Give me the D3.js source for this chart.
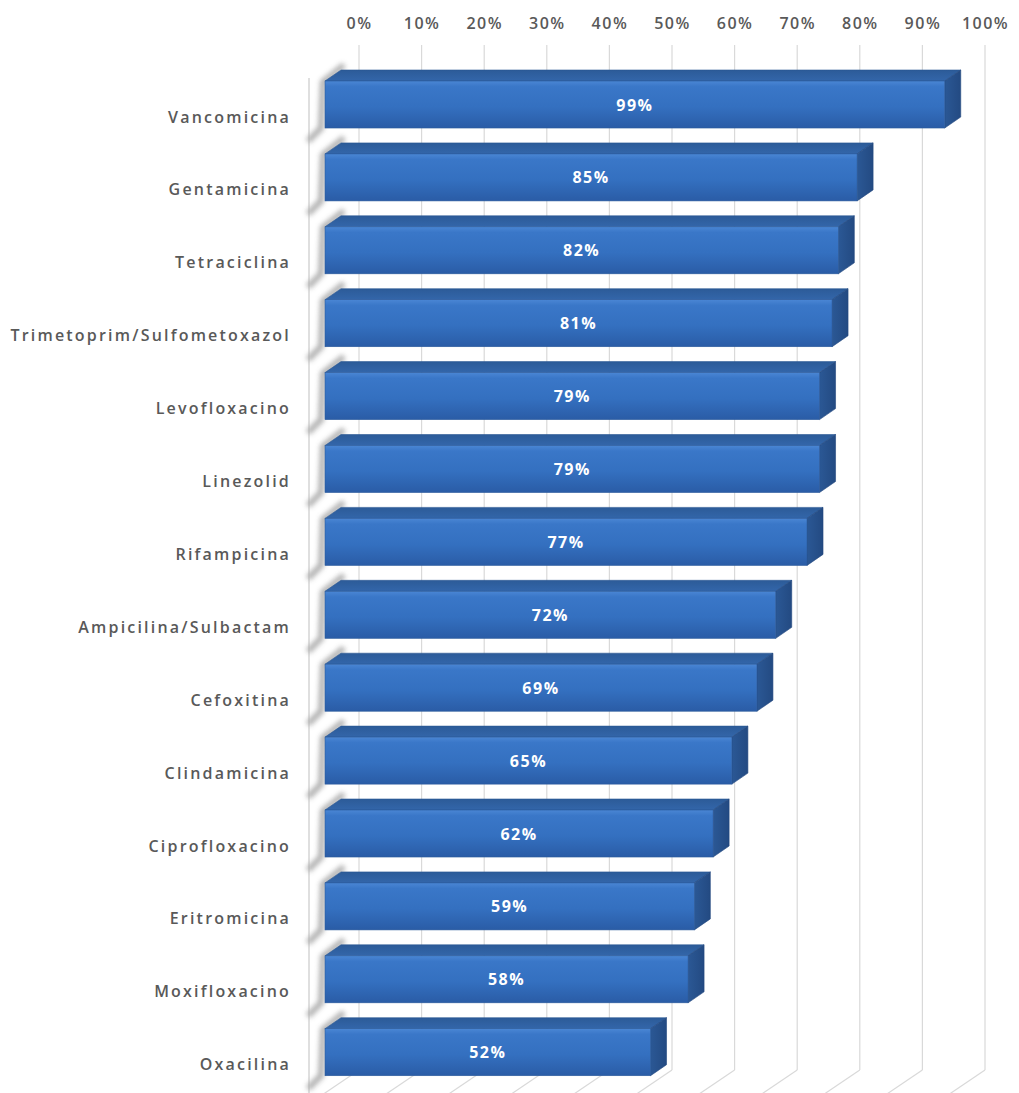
<!DOCTYPE html>
<html>
<head>
<meta charset="utf-8">
<script src="https://cdn.jsdelivr.net/npm/d3@7"></script>
<style>
  html, body { margin: 0; padding: 0; background: #ffffff; }
  svg { display: block; }
</style>
</head>
<body>
<div id="chart"></div>
<script>
// ---- data ----
const categories = [
  "Vancomicina", "Gentamicina", "Tetraciclina", "Trimetoprim/Sulfometoxazol",
  "Levofloxacino", "Linezolid", "Rifampicina", "Ampicilina/Sulbactam",
  "Cefoxitina", "Clindamicina", "Ciprofloxacino", "Eritromicina",
  "Moxifloxacino", "Oxacilina"
];
const values = [0.99, 0.85, 0.82, 0.81, 0.79, 0.79, 0.77, 0.72, 0.69, 0.65, 0.62, 0.59, 0.58, 0.52];
const tickValues = [0, 0.1, 0.2, 0.3, 0.4, 0.5, 0.6, 0.7, 0.8, 0.9, 1.0];

// ---- layout ----
const W = 1019, H = 1093;
const depth = { dx: 16, dy: -11 };   // bar depth (oblique projection)
const wall = { dx: 34, dy: -23 };    // back wall offset from front plane
const floorY = 1070;                 // bottom of back wall
const wallTop = 45;

const svg = d3.select("#chart").append("svg")
  .attr("width", W).attr("height", H)
  .attr("font-family", "'Open Sans', 'Liberation Sans', sans-serif");

const defs = svg.append("defs");
const fg = defs.append("linearGradient").attr("id", "front").attr("x1", 0).attr("y1", 0).attr("x2", 0).attr("y2", 1);
fg.append("stop").attr("offset", "0%").attr("stop-color", "#4a86d4");
fg.append("stop").attr("offset", "12%").attr("stop-color", "#3a77c8");
fg.append("stop").attr("offset", "55%").attr("stop-color", "#3470c0");
fg.append("stop").attr("offset", "100%").attr("stop-color", "#2a5ca6");
const tg = defs.append("linearGradient").attr("id", "top").attr("x1", 0).attr("y1", 0).attr("x2", 0).attr("y2", 1);
tg.append("stop").attr("offset", "0%").attr("stop-color", "#2c5b98");
tg.append("stop").attr("offset", "100%").attr("stop-color", "#3366aa");
const sg = defs.append("linearGradient").attr("id", "side").attr("x1", 0).attr("y1", 0).attr("x2", 1).attr("y2", 0);
sg.append("stop").attr("offset", "0%").attr("stop-color", "#2b5895");
sg.append("stop").attr("offset", "100%").attr("stop-color", "#234a82");
defs.append("filter").attr("id", "blur").attr("x", "-50%").attr("y", "-50%").attr("width", "200%").attr("height", "200%")
  .append("feGaussianBlur").attr("stdDeviation", 2.5);

// scales: front plane and back wall
const xF = d3.scaleLinear().domain([0, 1]).range([325, 951]);
const xB = d3.scaleLinear().domain([0, 1]).range([325 + wall.dx, 951 + wall.dx]);
const step = 72.9, pad = 0.355;
const y = d3.scaleBand().domain(categories)
  .range([81 - pad * step / 2, 81 - pad * step / 2 + step * categories.length])
  .paddingInner(pad).paddingOuter(pad / 2);

// ---- back wall gridlines and floor ----
const grid = svg.append("g").attr("stroke", "#d9d9d9").attr("stroke-width", 1.2).attr("fill", "none");
tickValues.forEach(t => {
  const gx = xB(t);
  grid.append("line").attr("x1", gx).attr("x2", gx).attr("y1", wallTop).attr("y2", floorY);
  grid.append("line").attr("x1", gx).attr("y1", floorY).attr("x2", gx - wall.dx * 1.3).attr("y2", floorY - wall.dy * 1.3);
});
// left wall front edge
svg.append("line").attr("x1", 309).attr("x2", 309).attr("y1", 78).attr("y2", H)
  .attr("stroke", "#d4d4d4").attr("stroke-width", 1.5);

// ---- axis labels (top) ----
const axis = d3.axisTop(xB).tickValues(tickValues).tickFormat(d3.format(".0%")).tickSize(0).tickPadding(0);
const axG = svg.append("g").attr("transform", "translate(0,29)").call(axis);
axG.select(".domain").remove();
axG.selectAll("text")
  .attr("fill", "#595959").attr("font-size", 16).attr("font-weight", 600)
  .attr("font-family", "'Open Sans', sans-serif")
  .attr("dy", 0)
  .style("letter-spacing", "1.5px");

// ---- bars ----
const bars = svg.append("g").selectAll("g").data(categories).join("g");
bars.each(function(c, i) {
  const g = d3.select(this);
  const v = values[i];
  const x0 = xF(0), x1 = xF(v);
  const yt = y(c), yb = y(c) + y.bandwidth();
  const { dx, dy } = depth;
  // shadow on left wall
  g.append("path")
    .attr("d", `M${x0 + dx + 3},${yt + dy - 5} L${x0 - 2},${yt + 1} L${x0 - 4},${yb} L${x0 - 17},${yb + 13}`)
    .attr("fill", "none").attr("stroke", "#a8a8a8").attr("stroke-width", 6)
    .attr("filter", "url(#blur)").attr("opacity", 0.9);
  // top face
  g.append("path")
    .attr("d", `M${x0},${yt} L${x1},${yt} L${x1 + dx},${yt + dy} L${x0 + dx},${yt + dy} Z`)
    .attr("fill", "url(#top)").attr("stroke", "#2a5794").attr("stroke-width", 0.6).attr("stroke-linejoin", "round");
  // right face
  g.append("path")
    .attr("d", `M${x1},${yt} L${x1 + dx},${yt + dy} L${x1 + dx},${yb + dy} L${x1},${yb} Z`)
    .attr("fill", "url(#side)").attr("stroke", "#22477d").attr("stroke-width", 0.6).attr("stroke-linejoin", "round");
  // front face
  g.append("rect")
    .attr("x", x0).attr("y", yt).attr("width", x1 - x0).attr("height", yb - yt)
    .attr("fill", "url(#front)").attr("stroke", "#2b5a9c").attr("stroke-width", 0.6);
  // value label
  g.append("text")
    .attr("x", (x0 + x1) / 2).attr("y", (yt + yb) / 2 + 6)
    .attr("text-anchor", "middle").attr("fill", "#ffffff")
    .attr("font-size", 16).attr("font-weight", 700)
    .style("letter-spacing", "1.5px")
    .text(d3.format(".0%")(v));
});

// ---- category labels ----
svg.append("g").selectAll("text").data(categories).join("text")
  .attr("x", 291)
  .attr("y", c => y(c) + y.bandwidth() / 2 + 18)
  .attr("text-anchor", "end")
  .attr("fill", "#595959").attr("font-size", 16).attr("font-weight", 600)
  .style("letter-spacing", "2.2px")
  .text(c => c);
</script>
</body>
</html>
